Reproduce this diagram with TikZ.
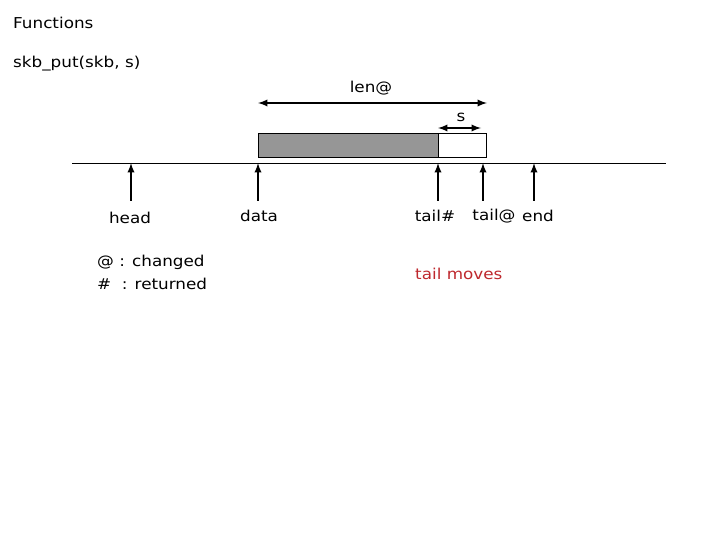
\documentclass[tikz,border=0pt]{standalone}
\usepackage{fontspec}
\setmainfont[FakeStretch=1.12]{DejaVu Sans}
\usetikzlibrary{positioning}
\definecolor{usedgray}{RGB}{150,150,150}
\definecolor{movered}{RGB}{190,40,45}

\begin{document}
\begin{tikzpicture}[x=1pt, y=-1pt,
    txt/.style={inner sep=0pt, font=\fontsize{15}{18}\selectfont},
    lefttxt/.style={txt, anchor=west},
    ptr/.style={->, >=latex, line width=2.2pt},
    span/.style={<->, >=latex, line width=2.2pt},
    buf/.style={draw, line width=0.8pt, inner sep=0pt, minimum height=24pt, anchor=south west}
]
\useasboundingbox (0,0) rectangle (720,540);

\node[lefttxt] (title) at (13,23) {Functions};
\node[lefttxt] (func) at (13,64) {skb\_put(skb, s)};

% buffer
\node[buf, fill=usedgray, minimum width=180pt] (used) at (258,158) {};
\node[buf, fill=white, minimum width=48pt] (added) at (438,158) {};
\coordinate (line-l) at (72,163);
\coordinate (line-r) at (666,163);
\draw[line width=0.8pt] (line-l) -- (line-r);

% lengths
\coordinate (len-l) at (258,103);
\coordinate (len-r) at (487,103);
\draw[span] (len-l) -- (len-r);
\node[txt] (len) at (371,88) {len@};
\coordinate (s-l) at (438,128);
\coordinate (s-r) at (481,128);
\draw[span] (s-l) -- (s-r);
\node[txt] (slabel) at (461,117) {s};

% pointers
\coordinate (head-bot) at (131,201);
\coordinate (head-top) at (131,163);
\coordinate (data-bot) at (258,201);
\coordinate (data-top) at (258,163);
\coordinate (tailold-bot) at (438,201);
\coordinate (tailold-top) at (438,163);
\coordinate (tailnew-bot) at (483,201);
\coordinate (tailnew-top) at (483,163);
\coordinate (end-bot) at (534,201);
\coordinate (end-top) at (534,163);
\draw[ptr] (head-bot) -- (head-top);
\draw[ptr] (data-bot) -- (data-top);
\draw[ptr] (tailold-bot) -- (tailold-top);
\draw[ptr] (tailnew-bot) -- (tailnew-top);
\draw[ptr] (end-bot) -- (end-top);

\node[txt] (head) at (130,218) {head};
\node[txt] (data) at (259,216) {data};
\node[txt] (tailold) at (435,216) {tail\#};
\node[txt] (tailnew) at (494,216) {tail@};
\node[txt] (end) at (538,216) {end};

% legend
\node[lefttxt] (changed) at (97,262) {@ : changed};
\node[lefttxt] (returned) at (97,284) {\#\ \ : returned};
\node[lefttxt, text=movered] (moves) at (415,274) {tail moves};

\end{tikzpicture}
\end{document}
